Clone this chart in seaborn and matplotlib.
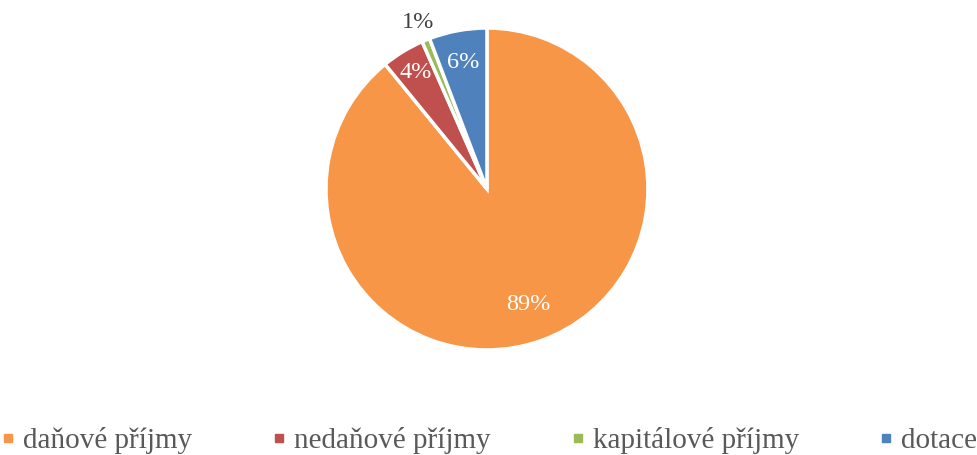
import matplotlib.pyplot as plt
import numpy as np
import seaborn as sns
from matplotlib.lines import Line2D

# Data (share of municipal revenues, %)
categories = ['daňové příjmy', 'nedaňové příjmy', 'kapitálové příjmy', 'dotace']
values = [89.1, 4.3, 0.8, 5.8]
pct_labels = ['89%', '4%', '1%', '6%']

sns.set_theme(style='white')
plt.rcParams['font.family'] = ['Liberation Serif', 'DejaVu Serif']

colors = sns.color_palette(['#F79646', '#C0504D', '#9BBB59', '#4F81BD'])
# distance of each percentage label from the centre (fraction of radius)
label_r = [0.76, 0.85, 1.12, 0.80]
label_colors = ['white', 'white', '#404040', 'white']

fig = plt.figure(figsize=(9.78, 4.55), dpi=100)
ax = fig.add_axes([0.3333, 0.2308, 0.3292, 0.7077])

wedges, _ = ax.pie(values, colors=colors, startangle=90, counterclock=False,
                   wedgeprops=dict(edgecolor='white', linewidth=2.5))

# Percentage labels at the middle angle of each wedge
for w, lab, r, c in zip(wedges, pct_labels, label_r, label_colors):
    mid = np.deg2rad((w.theta1 + w.theta2) / 2)
    ax.text(r * np.cos(mid), r * np.sin(mid), lab, ha='center', va='center',
            fontsize=17.5, color=c)

ax.set_xlim(-1, 1)
ax.set_ylim(-1, 1)
ax.set_aspect('equal')
ax.axis('off')

handles = [Line2D([], [], linestyle='none', marker='s', markersize=6,
                  markerfacecolor=c, markeredgecolor=c) for c in colors]
fig.legend(handles, categories, loc='lower center', bbox_to_anchor=(0.5, -0.055),
           ncol=4, frameon=False, fontsize=21, handlelength=0.5,
           handletextpad=0.25, columnspacing=2.75, labelcolor='#595959')

fig.savefig('out.png', dpi=100)
